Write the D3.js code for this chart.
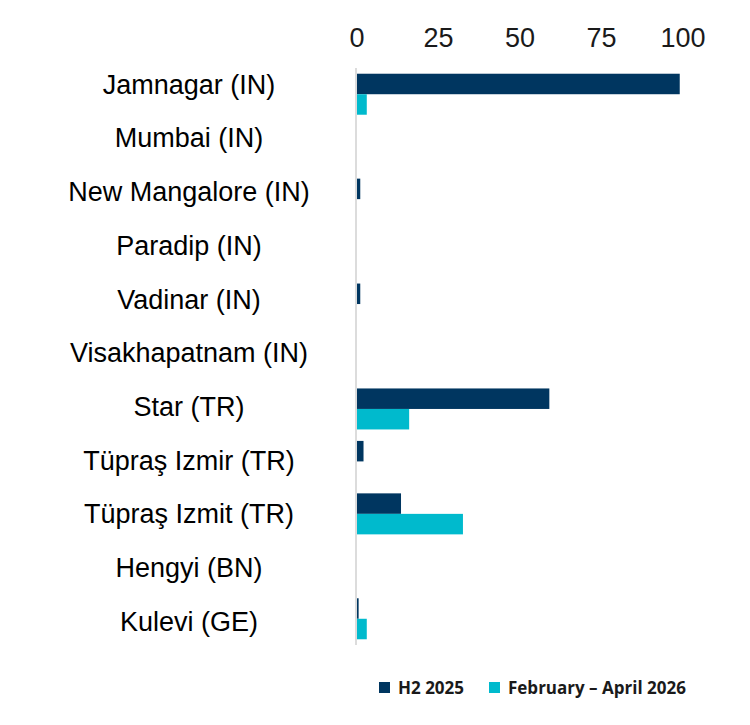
<!DOCTYPE html>
<html>
<head>
<meta charset="utf-8">
<style>
  body { margin: 0; background: #fff; }
  #chart { font-family: 'Liberation Sans', Arial, sans-serif; }
  .legend text { font-family: 'Open Sans', 'Liberation Sans', sans-serif; font-weight: bold; }
</style>
</head>
<body>
<div id="chart"></div>
<script src="https://d3js.org/d3.v7.min.js"></script>
<script>
  var refineries = ["Jamnagar (IN)", "Mumbai (IN)", "New Mangalore (IN)", "Paradip (IN)",
    "Vadinar (IN)", "Visakhapatnam (IN)", "Star (TR)", "Tüpraş Izmir (TR)",
    "Tüpraş Izmit (TR)", "Hengyi (BN)", "Kulevi (GE)"];
  var h2_2025 = [99, 0, 1, 0, 1, 0, 59, 2, 13.5, 0, 0.5];
  var febApr2026 = [3, 0, 0, 0, 0, 0, 16, 0, 32.5, 0, 3];
  var seriesNames = ["H2 2025", "February – April 2026"];
  var seriesColors = ["#003660", "#00bacd"];
  var ticks = [0, 25, 50, 75, 100];

  var width = 750, height = 725;
  var svg = d3.select("#chart").append("svg")
    .attr("width", width).attr("height", height);

  var x = d3.scaleLinear().domain([0, 100]).range([357, 683]);
  var y = d3.scaleBand().domain(refineries).range([68, 645]);
  // the text labels sit on a slightly wider spacing than the bars
  var yLabel = d3.scalePoint().domain(refineries).range([84, 621]);
  var inner = d3.scaleBand().domain([0, 1]).range([0, 41]);

  // top axis labels
  svg.append("g")
    .selectAll("text")
    .data(ticks)
    .join("text")
    .attr("x", function(d) { return x(d); })
    .attr("y", 47)
    .attr("text-anchor", "middle")
    .style("font-size", "27px")
    .style("fill", "#1a1a1a")
    .text(function(d) { return d; });

  // category labels
  svg.append("g")
    .selectAll("text")
    .data(refineries)
    .join("text")
    .attr("x", 189)
    .attr("y", function(d) { return yLabel(d); })
    .attr("dy", "0.36em")
    .attr("text-anchor", "middle")
    .style("font-size", "27px")
    .style("fill", "#000")
    .text(function(d) { return d; });

  var series = [h2_2025, febApr2026];
  series.forEach(function(vals, s) {
    svg.append("g")
      .selectAll("rect")
      .data(refineries)
      .join("rect")
      .attr("x", x(0))
      .attr("y", function(d) { return y(d) + (y.bandwidth() - 41) / 2 + inner(s); })
      .attr("width", function(d, i) { return x(vals[i]) - x(0); })
      .attr("height", inner.bandwidth())
      .attr("fill", seriesColors[s]);
  });

  // axis line
  svg.append("line")
    .attr("x1", 356).attr("x2", 356)
    .attr("y1", 68).attr("y2", 645)
    .attr("stroke", "#dcdcdc").attr("stroke-width", 2);

  // legend
  var legendX = [379, 489];
  var legend = svg.append("g").attr("class", "legend");
  seriesNames.forEach(function(name, s) {
    legend.append("rect")
      .attr("x", legendX[s]).attr("y", 682)
      .attr("width", 11).attr("height", 11)
      .attr("fill", seriesColors[s]);
    legend.append("text")
      .attr("x", legendX[s] + 19).attr("y", 694)
      .style("font-size", "17px")
      .style("fill", "#1a1a1a")
      .text(name);
  });
</script>
</body>
</html>
